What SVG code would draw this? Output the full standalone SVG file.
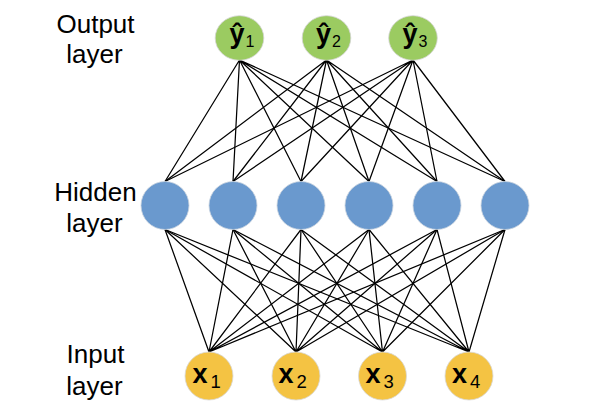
<svg xmlns="http://www.w3.org/2000/svg" width="592" height="414" viewBox="0 0 592 414">
<style>
.lbl{font-family:"Liberation Sans",Arial,sans-serif;font-size:26px;fill:#000;text-anchor:middle}
.m{font-family:"Liberation Sans",Arial,sans-serif;font-weight:bold;fill:#000}
.s{font-family:"Liberation Sans",Arial,sans-serif;fill:#000}
.out{fill:#9BCB61;stroke:#d4d4d4;stroke-width:0.8}
.hid{fill:#6A99CE;stroke:#c9d3de;stroke-width:0.8}
.inp{fill:#F4C343;stroke:#d8d8d8;stroke-width:0.8}
.c{stroke:#000;stroke-width:1.25;fill:none}
</style>
<rect width="592" height="414" fill="#fff"/>
<g id="labels">
<text class="lbl" x="95.5" y="33">Output</text>
<text class="lbl" x="94.5" y="63">layer</text>
<text class="lbl" x="95.5" y="201">Hidden</text>
<text class="lbl" x="94.5" y="232">layer</text>
<text class="lbl" x="95.5" y="363">Input</text>
<text class="lbl" x="94.5" y="395">layer</text>
</g>
<g id="connectors" class="c">
<path d="M165 181.5L239.5 60M233 181.5L239.5 60M301 181.5L239.5 60M369 181.5L239.5 60M437 181.5L239.5 60M505 181.5L239.5 60"/>
<path d="M165 181.5L326.5 60M233 181.5L326.5 60M301 181.5L326.5 60M369 181.5L326.5 60M437 181.5L326.5 60M505 181.5L326.5 60"/>
<path d="M165 181.5L413 60M233 181.5L413 60M301 181.5L413 60M369 181.5L413 60M437 181.5L413 60M505 181.5L413 60"/>
<path d="M165 229.5L209 352M233 229.5L209 352M301 229.5L209 352M369 229.5L209 352M437 229.5L209 352M505 229.5L209 352"/>
<path d="M165 229.5L296 352M233 229.5L296 352M301 229.5L296 352M369 229.5L296 352M437 229.5L296 352M505 229.5L296 352"/>
<path d="M165 229.5L382.5 352M233 229.5L382.5 352M301 229.5L382.5 352M369 229.5L382.5 352M437 229.5L382.5 352M505 229.5L382.5 352"/>
<path d="M165 229.5L469 352M233 229.5L469 352M301 229.5L469 352M369 229.5L469 352M437 229.5L469 352M505 229.5L469 352"/>
</g>
<g id="y1"><ellipse class="out" cx="239.5" cy="38" rx="24.3" ry="22.3"/><text x="229.5" y="42.5"><tspan class="m" font-size="27">ŷ</tspan><tspan class="s" font-size="16" dx="1" dy="4">1</tspan></text></g>
<g id="y2"><ellipse class="out" cx="326.5" cy="38" rx="24.3" ry="22.3"/><text x="316" y="42.5"><tspan class="m" font-size="27">ŷ</tspan><tspan class="s" font-size="16" dx="1" dy="4">2</tspan></text></g>
<g id="y3"><ellipse class="out" cx="413" cy="38" rx="24.3" ry="22.3"/><text x="402.5" y="42.5"><tspan class="m" font-size="27">ŷ</tspan><tspan class="s" font-size="16" dx="1" dy="4">3</tspan></text></g>
<g id="h1"><circle class="hid" cx="165" cy="205.5" r="24"/></g>
<g id="h2"><circle class="hid" cx="233" cy="205.5" r="24"/></g>
<g id="h3"><circle class="hid" cx="301" cy="205.5" r="24"/></g>
<g id="h4"><circle class="hid" cx="369" cy="205.5" r="24"/></g>
<g id="h5"><circle class="hid" cx="437" cy="205.5" r="24"/></g>
<g id="h6"><circle class="hid" cx="505" cy="205.5" r="24"/></g>
<g id="x1"><circle class="inp" cx="209" cy="376" r="24"/><text x="192.5" y="382.5"><tspan class="m" font-size="27">x</tspan><tspan class="s" font-size="18.5" dx="3" dy="5">1</tspan></text></g>
<g id="x2"><circle class="inp" cx="296" cy="376" r="24"/><text x="278.5" y="382.5"><tspan class="m" font-size="27">x</tspan><tspan class="s" font-size="18.5" dx="3" dy="5">2</tspan></text></g>
<g id="x3"><circle class="inp" cx="382.5" cy="376" r="24"/><text x="365.5" y="382.5"><tspan class="m" font-size="27">x</tspan><tspan class="s" font-size="18.5" dx="3" dy="5">3</tspan></text></g>
<g id="x4"><circle class="inp" cx="469" cy="376" r="24"/><text x="452" y="382.5"><tspan class="m" font-size="27">x</tspan><tspan class="s" font-size="18.5" dx="3" dy="5">4</tspan></text></g>
</svg>
